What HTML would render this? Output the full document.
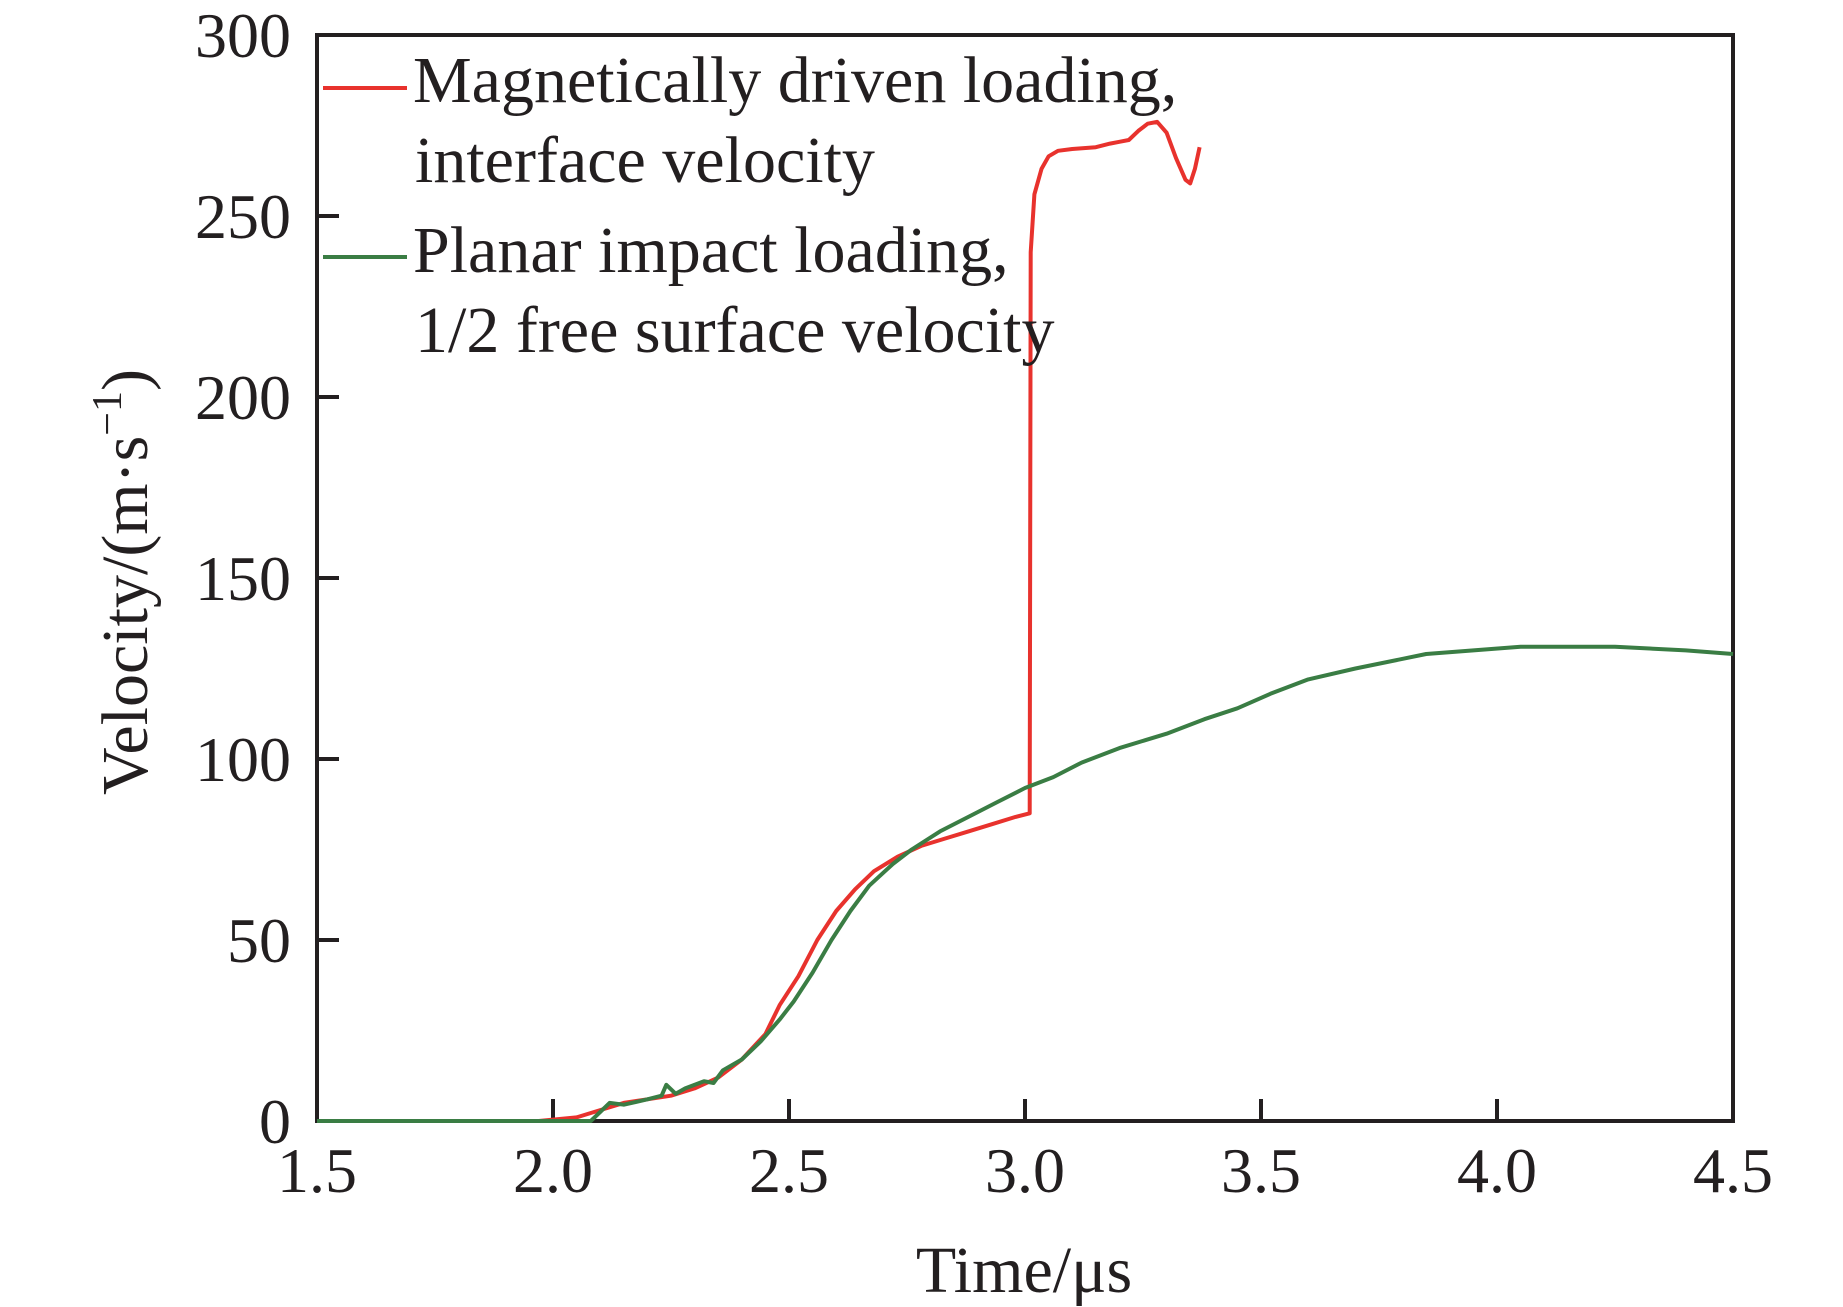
<!DOCTYPE html>
<html><head><meta charset="utf-8"><style>
html,body{margin:0;padding:0;background:#fff;}
svg{display:block;font-family:"Liberation Serif",serif;}
</style></head><body>
<svg id="chart" width="1843" height="1307" viewBox="0 0 1843 1307" xmlns="http://www.w3.org/2000/svg">
<g id="marks"></g>
</svg>
<script>
const xTicks = [1.5, 2.0, 2.5, 3.0, 3.5, 4.0, 4.5];
const xTickLabels = ["1.5","2.0","2.5","3.0","3.5","4.0","4.5"];
const yTicks = [0, 50, 100, 150, 200, 250, 300];
const yTickLabels = ["0","50","100","150","200","250","300"];
const redT = [1.5,1.97,2.05,2.1,2.15,2.2,2.25,2.3,2.35,2.4,2.45,2.48,2.52,2.56,2.6,2.64,2.68,2.73,2.78,2.83,2.88,2.93,2.98,3.01,3.012,3.02,3.035,3.05,3.07,3.1,3.15,3.18,3.2,3.22,3.24,3.26,3.28,3.3,3.32,3.34,3.35,3.36,3.37];
const redV = [0,0,1,3,5,6,7,9,12,17,24,32,40,50,58,64,69,73,76,78,80,82,84,85,240,256,263,266.5,268,268.5,269,270,270.5,271,273.5,275.5,276,273,266,260,259,263,269];
const greenT = [1.5,2.08,2.12,2.15,2.2,2.23,2.24,2.26,2.28,2.32,2.34,2.36,2.4,2.44,2.48,2.51,2.55,2.59,2.63,2.67,2.72,2.76,2.82,2.88,2.94,3.0,3.06,3.12,3.2,3.3,3.38,3.45,3.52,3.6,3.7,3.85,3.95,4.05,4.25,4.4,4.5];
const greenV = [0,0,5,4.5,6,7,10,7.5,9,11,10.5,14,17,22,28,33,41,50,58,65,71,75,80,84,88,92,95,99,103,107,111,114,118,122,125,129,130,131,131,130,129];

const X0=317, X1=1733, Y0=1121, Y1=35;
const xs = t => X0 + (t-1.5)/3*(X1-X0);
const ys = v => Y0 - v/300*(Y0-Y1);
const NS="http://www.w3.org/2000/svg";
const svg=document.getElementById('chart');
function mk(tag, attrs, text){const e=document.createElementNS(NS,tag);for(const k in attrs)e.setAttribute(k,attrs[k]);if(text!==undefined)e.textContent=text;svg.appendChild(e);return e;}

let e;
e=mk('rect',{x:X0,y:Y1,width:X1-X0,height:Y0-Y1,fill:'none',stroke:'#231f20','stroke-width':4});



xTicks.forEach((t,i)=>{
  e=mk('line',{x1:xs(t),x2:xs(t),y1:Y0,y2:Y0-22,stroke:'#231f20','stroke-width':4});
  
  
  e=mk('text',{x:xs(t),y:1192,'font-size':64,'text-anchor':'middle',fill:'#231f20'},xTickLabels[i]);
  
  
});
yTicks.forEach((v,i)=>{
  e=mk('line',{x1:X0,x2:X0+22,y1:ys(v),y2:ys(v),stroke:'#231f20','stroke-width':4});
  
  
  e=mk('text',{x:291,y:ys(v)+22,'font-size':64,'text-anchor':'end',fill:'#231f20'},yTickLabels[i]);
  
  
});

e=mk('text',{x:1024,y:1292,'font-size':66,'text-anchor':'middle',fill:'#231f20'},'Time/μs');


e=mk('text',{x:0,y:0,'font-size':66,'text-anchor':'middle',fill:'#231f20',transform:'translate(147,582) rotate(-90)'});
e.innerHTML='Velocity/(m·s<tspan dy="-26" font-size="42">−1</tspan><tspan dy="26">)</tspan>';



function pathFrom(T,V){return T.map((t,i)=>(i?'L':'M')+xs(t).toFixed(1)+','+ys(V[i]).toFixed(1)).join(' ');}
e=mk('path',{d:pathFrom(redT,redV),fill:'none',stroke:'#e8322d','stroke-width':4,'stroke-linejoin':'round'});


e=mk('path',{d:pathFrom(greenT,greenV),fill:'none',stroke:'#3a7d44','stroke-width':4,'stroke-linejoin':'round'});



e=mk('line',{x1:323,x2:407,y1:88,y2:88,stroke:'#e8322d','stroke-width':4});


e=mk('text',{x:413,y:102,'font-size':66,fill:'#231f20'},'Magnetically driven loading,');


e=mk('text',{x:415,y:182,'font-size':66,fill:'#231f20'},'interface velocity');


e=mk('line',{x1:323,x2:407,y1:257,y2:257,stroke:'#3a7d44','stroke-width':4});


e=mk('text',{x:413,y:272,'font-size':66,fill:'#231f20'},'Planar impact loading,');


e=mk('text',{x:415,y:352,'font-size':66,fill:'#231f20'},'1/2 free surface velocity');


</script>
</body></html>
